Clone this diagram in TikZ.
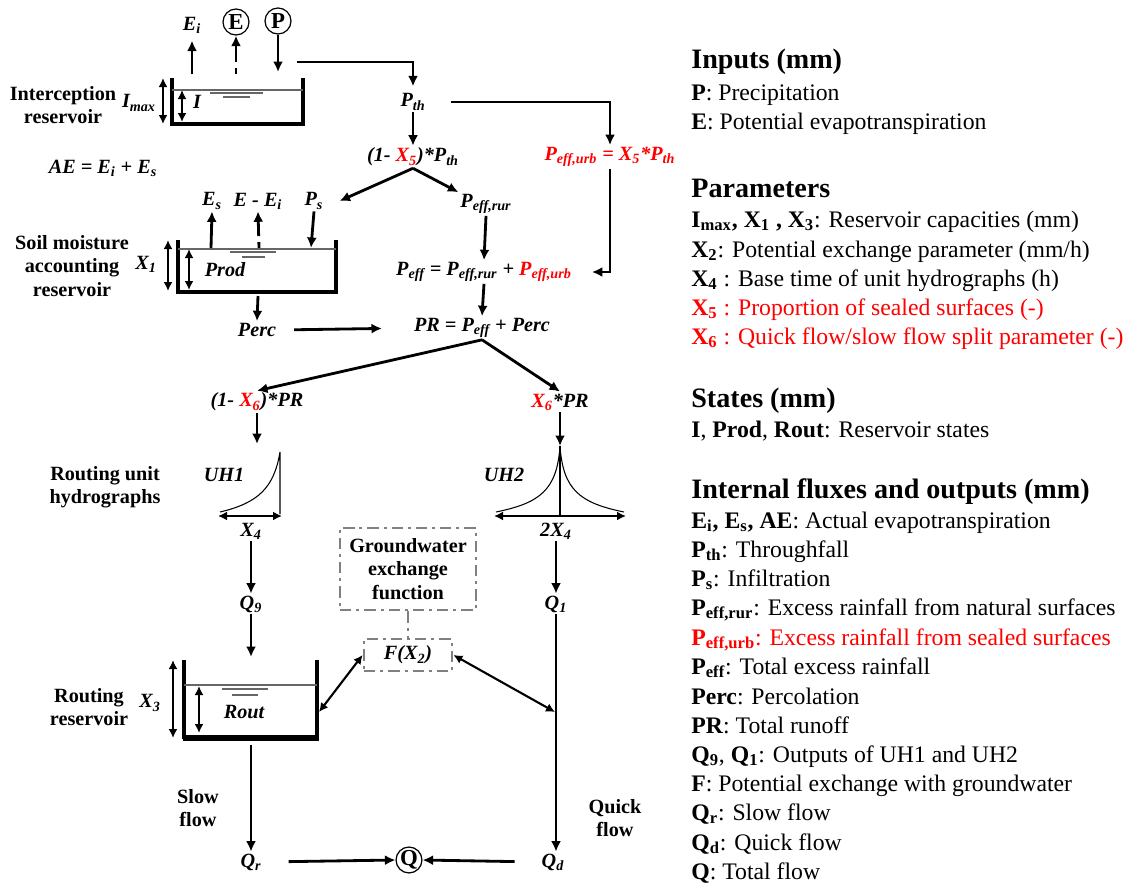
\documentclass[tikz,border=0pt]{standalone}
\usepackage{fontspec}
\setmainfont{Liberation Serif}
\usetikzlibrary{arrows.meta,positioning}
\newcommand{\dn}[1]{\textsubscript{#1}}
\newcommand{\rd}[1]{\textcolor{red}{#1}}

\begin{document}
\begin{tikzpicture}[
  x=0.02cm, y=-0.02cm,
  lbl/.style={font=\fontsize{11.5}{13}\selectfont\bfseries\itshape, inner sep=1pt},
  txt/.style={font=\fontsize{11.5}{13.2}\selectfont\bfseries, align=center, inner sep=1pt},
  arr/.style={-{Latex[length=2.1mm,width=2mm]}, line width=1.6pt},
  darr/.style={{Latex[length=1.8mm,width=1.8mm]}-{Latex[length=1.8mm,width=1.8mm]}, line width=1.2pt},
  dasharr/.style={arr, dash pattern=on 3.4pt off 3.4pt on 30pt off 1pt},
  wall/.style={line width=1.9pt},
  water/.style={gray!80!black, line width=0.7pt},
  circ/.style={draw, circle, line width=0.7pt, inner sep=0pt, minimum size=0.52cm, font=\fontsize{13}{14}\selectfont\bfseries},
  gwdash/.style={draw=gray, line width=1.6pt, dash pattern=on 6.5pt off 2.8pt on 1.7pt off 2.8pt},
  gwbox/.style={gwdash, align=center},
  leg/.style={font=\fontsize{13.5}{16}\selectfont, anchor=base west, inner sep=0pt},
  head/.style={font=\fontsize{16}{18}\selectfont\bfseries, anchor=base west, inner sep=0pt}
]
\useasboundingbox (0,0) rectangle (1138,886);

% interception reservoir
\draw[wall] (172,78) |- (303,124) -- (303,78);
\draw[line width=2.6pt] (171,124) -- (304,124);
\draw[water] (172,90) -- (303,90);
\draw[water] (210,93) -- (263,93);
\draw[water] (223,97) -- (250,97);
\coordinate (ir-ei) at (192,74);
\coordinate (ir-e) at (236,74);
\coordinate (ir-p) at (278,72);
\coordinate (ir-out) at (297,62);
\draw[darr] (163,78) -- (163,124);
\draw[darr] (182,90) -- (182,122);
\node[lbl] (ei) at (192,25) {E\dn{i}};
\node[circ] (ecirc) at (236,22) {E};
\node[circ] (pcirc) at (278,21) {P};
\node[lbl] (imax) at (139,103) {I\dn{max}};
\node[lbl] (ilab) at (197,102) {I};
\node[txt] (intres) at (63,105) {Interception\\reservoir};
\draw[arr] (ir-ei) -- ([yshift=-3]ei.south);
\draw[dasharr] (ir-e) -- (ecirc.south);
\draw[arr] (pcirc.south) -- (ir-p);

% throughfall split
\node[lbl] (pth) at (413,102) {P\dn{th}};
\node[lbl] (x5pth) at (413,157) {(1- \rd{X\dn{5}})*P\dn{th}};
\node[lbl, text=red] (peffurb) at (610,157) {P\dn{eff,urb} = X\dn{5}*P\dn{th}};
\node[lbl] (ae) at (103,168) {AE = E\dn{i} + E\dn{s}};
\draw[arr] (ir-out) -| ([yshift=3]pth.north);
\draw[arr] (pth.south) -- (x5pth.north);
\draw[arr, shorten <=0.46cm] (pth.east) -| (peffurb.north);

% soil moisture accounting reservoir
\draw[wall] (178,240) |- (336,292) -- (336,240);
\draw[water] (178,249) -- (336,249);
\draw[water] (230,252) -- (276,252);
\draw[water] (242,257) -- (265,257);
\coordinate (sr-es) at (211,248);
\coordinate (sr-ee) at (259,248);
\coordinate (sr-ps) at (311,248);
\coordinate (sr-out) at (258,296);
\draw[darr] (168,240) -- (168,291);
\draw[darr] (189,249) -- (189,290);
\node[lbl] (es) at (212,201) {E\dn{s}};
\node[lbl] (eei) at (258,201) {E - E\dn{i}};
\node[lbl] (ps) at (314,201) {P\dn{s}};
\node[lbl] (x1) at (146,264) {X\dn{1}};
\node[lbl] (prod) at (225,270) {Prod};
\node[txt] (soilres) at (72,266) {Soil moisture\\accounting\\reservoir};
\node[lbl] (perc) at (257,330) {Perc};
\draw[arr] (x5pth.south) -- ([xshift=8]ps.east);
\draw[arr] (sr-es) -- (es.south);
\draw[dasharr] (sr-ee) -- (eei.south);
\draw[arr] (ps.south) -- (sr-ps);
\draw[arr] (sr-out) -- (perc.north);

% effective rainfall and runoff
\node[lbl] (peffrur) at (486,204) {P\dn{eff,rur}};
\node[lbl] (peff) at (484,272) {P\dn{eff} = P\dn{eff,rur} + \rd{P\dn{eff,urb}}};
\node[lbl] (pr) at (482,328) {PR = P\dn{eff} + Perc};
\draw[arr] (x5pth.south) -- (peffrur.north west);
\draw[arr] (peffrur.south) -- (peff.north);
\draw[arr, shorten >=0.36cm] (peffurb.south) |- (peff.east);
\draw[arr] (peff.south) -- (pr.north);
\draw[arr, shorten <=0.32cm, shorten >=0.6cm] (perc.east) -- (pr.west);

% unit hydrographs
\node[lbl] (x6pr1) at (257,402) {(1- \rd{X\dn{6}})*PR};
\node[lbl] (x6pr2) at (560,402) {\rd{X\dn{6}}*PR};
\draw[arr] (pr.south) -- (x6pr1.north);
\draw[arr] (pr.south) -- (x6pr2.north);
\coordinate (uh1-in) at (257,444);
\coordinate (uh2-in) at (560,446);
\draw[arr] (x6pr1.south) -- (uh1-in);
\draw[arr] (x6pr2.south) -- (uh2-in);
\draw[line width=0.6pt] (220,512) .. controls (258,503) and (274,488) .. (280,452) -- (280,514);
\draw[line width=0.6pt] (496,512) .. controls (540,503) and (557,490) .. (560,446)
  .. controls (563,490) and (580,503) .. (624,512);
\draw[line width=0.6pt] (560,446) -- (560,515);
\draw[darr] (218,516) -- (282,516);
\draw[darr] (494,516) -- (626,516);
\node[lbl] (uh1) at (224,475) {UH1};
\node[lbl] (uh2) at (504,475) {UH2};
\node[txt] (routuh) at (105,487) {Routing unit\\hydrographs};
\node[lbl] (x4a) at (251,531) {X\dn{4}};
\node[lbl] (x4b) at (556,531) {2X\dn{4}};
\node[lbl] (q9) at (251,604) {Q\dn{9}};
\node[lbl] (q1) at (556,604) {Q\dn{1}};
\draw[arr] (x4a.south) -- (q9.north);
\draw[arr] (x4b.south) -- (q1.north);

% groundwater exchange
\node[gwbox, txt, minimum width=2.72cm, minimum height=1.64cm] (gw) at (408,569) {Groundwater\\exchange\\function};
\node[gwbox, lbl, minimum width=1.76cm, minimum height=0.64cm] (fx2) at (408,655) {F(X\dn{2})};
\draw[gwdash] (gw.south) -- (fx2.north);

% routing reservoir
\draw[wall] (184,660) |- (317,737) -- (317,660);
\draw[line width=3.8pt] (182.5,738) -- (318.5,738);
\draw[water] (184,685) -- (317,685);
\draw[water] (222,689) -- (268,689);
\draw[water] (232,695) -- (258,695);
\coordinate (rr-in) at (251,657);
\coordinate (rr-right) at (319,712);
\coordinate (rr-out) at (251,745);
\coordinate (q-gw) at (555,712);
\draw[darr] (173,660) -- (173,738);
\draw[darr] (199,686) -- (199,733);
\node[lbl] (x3) at (150,703) {X\dn{3}};
\node[lbl] (rout) at (244,712) {Rout};
\node[txt] (routres) at (89,707) {Routing\\reservoir};
\draw[arr] (q9.south) -- (rr-in);
\draw[darr] (fx2.west) -- (rr-right);
\draw[darr] (fx2.east) -- (q-gw);

% outflow
\node[txt] (slow) at (198,808) {Slow\\flow};
\node[txt] (quick) at (615,818) {Quick\\flow};
\node[lbl] (qr) at (251,862) {Q\dn{r}};
\node[lbl] (qd) at (553,862) {Q\dn{d}};
\node[circ, minimum size=0.48cm] (qcirc) at (409,860) {Q};
\draw[arr] (rr-out) -- (qr.north);
\draw[arr] (q1.south) -- (q1.south |- qd.north);
\draw[arr, shorten <=0.5cm] (qr.east) -- (qcirc.west);
\draw[arr, shorten <=0.5cm] (qd.west) -- (qcirc.east);

% legend
\node[head] (hinp) at (691,68) {Inputs (mm)};
\node[leg] (lp) at (691,100) {\textbf{P}: Precipitation};
\node[leg] (le) at (691,129) {\textbf{E}: Potential evapotranspiration};
\node[head] (hpar) at (691,197) {Parameters};
\node[leg] (lcap) at (691,227) {\textbf{I\dn{max}, X\dn{1} , X\dn{3}}: Reservoir capacities (mm)};
\node[leg] (lx2) at (691,257) {\textbf{X\dn{2}}: Potential exchange parameter (mm/h)};
\node[leg] (lx4) at (691,286) {\textbf{X\dn{4}} : Base time of unit hydrographs (h)};
\node[leg, text=red] (lx5) at (691,315) {\textbf{X\dn{5}} : Proportion of sealed surfaces (-)};
\node[leg, text=red] (lx6) at (691,344) {\textbf{X\dn{6}} : Quick flow/slow flow split parameter (-)};
\node[head] (hsta) at (691,407) {States (mm)};
\node[leg] (lst) at (691,437) {\textbf{I}, \textbf{Prod}, \textbf{Rout}: Reservoir states};
\node[head] (hflx) at (691,498) {Internal fluxes and outputs (mm)};
\node[leg] (lae) at (691,528) {\textbf{E\dn{i}, E\dn{s}, AE}: Actual evapotranspiration};
\node[leg] (lpth) at (691,557) {\textbf{P\dn{th}}: Throughfall};
\node[leg] (lps) at (691,586) {\textbf{P\dn{s}}: Infiltration};
\node[leg] (lrur) at (691,615) {\textbf{P\dn{eff,rur}}: Excess rainfall from natural surfaces};
\node[leg, text=red] (lurb) at (691,645) {\textbf{P\dn{eff,urb}}: Excess rainfall from sealed surfaces};
\node[leg] (lpeff) at (691,674) {\textbf{P\dn{eff}}: Total excess rainfall};
\node[leg] (lperc) at (691,704) {\textbf{Perc}: Percolation};
\node[leg] (lpr) at (691,733) {\textbf{PR}: Total runoff};
\node[leg] (lq) at (691,762) {\textbf{Q\dn{9}}, \textbf{Q\dn{1}}: Outputs of UH1 and UH2};
\node[leg] (lf) at (691,791) {\textbf{F}: Potential exchange with groundwater};
\node[leg] (lqr) at (691,820) {\textbf{Q\dn{r}}: Slow flow};
\node[leg] (lqd) at (691,850) {\textbf{Q\dn{d}}: Quick flow};
\node[leg] (lqt) at (691,879) {\textbf{Q}: Total flow};
\end{tikzpicture}
\end{document}
